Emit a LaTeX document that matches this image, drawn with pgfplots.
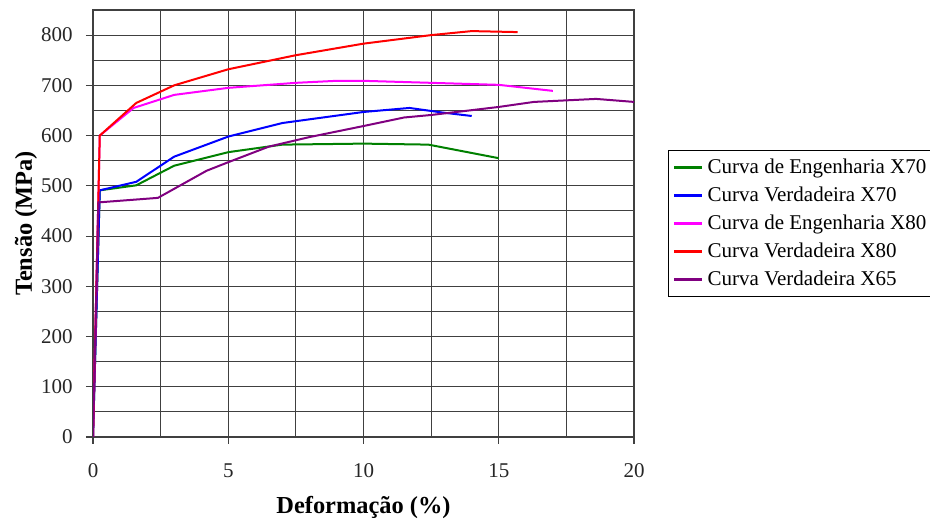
\documentclass[border=0pt]{standalone}
\usepackage{fontspec}
\setmainfont{Liberation Serif}
\usepackage{pgfplots}
\pgfplotsset{compat=1.18}
\definecolor{cgreen}{RGB}{0,128,0}
\definecolor{cblue}{RGB}{0,0,255}
\definecolor{cmag}{RGB}{255,0,255}
\definecolor{cred}{RGB}{255,0,0}
\definecolor{cpurp}{RGB}{128,0,128}
\begin{document}
\fontsize{10.5}{12.6}\selectfont
\begin{tikzpicture}
\path[use as bounding box] (-46.5pt,-43pt) rectangle (418.5pt,218.5pt);
\begin{axis}[
  scale only axis,
  width=270.5pt, height=213.5pt,
  at={(0,0)}, anchor=south west,
  xmin=0, xmax=20, ymin=0, ymax=850,
  xtick={0,5,10,15,20},
  ytick={0,100,...,800},
  minor xtick={2.5,7.5,12.5,17.5},
  minor ytick={50,150,...,850},
  grid=both,
  grid style={black!75, line width=0.55pt},
  minor grid style={black!75, line width=0.55pt},
  axis line style={black!75, line width=0.55pt},
  tick align=outside,
  major tick length=3.5pt,
  minor tick length=0pt,
  xtick pos=bottom, ytick pos=left,
  tick style={black!75, line width=0.55pt},
  /pgf/number format/assume math mode=true,
  ticklabel style={font=\fontsize{10.5}{12.6}\selectfont, text=black!85},
  xticklabel style={yshift=-6pt},
  yticklabel style={xshift=-3pt},
  xlabel={\textbf{Deformação (\%)}},
  ylabel={\textbf{Tensão (MPa)}},
  label style={font=\fontsize{12.2}{14}\selectfont},
  xlabel style={at={(axis description cs:0.5,-0.164)}, anchor=center},
  ylabel style={at={(axis description cs:-0.1240,0.5)}, anchor=center, rotate=0},
  legend style={at={(1.0628,0.672)}, anchor=north west, draw=black, line width=0.5pt,
    font=\fontsize{10.5}{12.6}\selectfont, row sep=1.2pt, inner xsep=2pt, inner ysep=2pt},
  legend cell align=left,
  legend image code/.code={\draw[#1, line width=1.6pt] (0pt,0pt) -- (14pt,0pt);},
  every axis plot/.append style={line width=1pt},
]
\addplot[cgreen] coordinates {(0,0) (0.25,491) (1.6,501) (3,540) (5,567) (7,582) (10,584) (12.4,582) (15,555)};
\addlegendentry{Curva de Engenharia X70}
\addplot[cblue] coordinates {(0,0) (0.25,491) (1.6,508) (3,558) (5,598) (7,625) (8.5,636) (10,647) (11.7,655) (12.9,646) (14,639)};
\addlegendentry{Curva Verdadeira X70}
\addplot[cmag] coordinates {(0,0) (0.25,600) (1.5,655) (3,681) (5,695) (7.5,705) (9,709) (10,709) (12.5,705) (15,701) (17,689)};
\addlegendentry{Curva de Engenharia X80}
\addplot[cred] coordinates {(0,0) (0.25,600) (1.6,665) (3,700) (5,732) (7.5,760) (10,783) (12.5,800) (14,808) (15.7,806)};
\addlegendentry{Curva Verdadeira X80}
\addplot[cpurp] coordinates {(0,0) (0.2,467) (2.4,476) (4.2,530) (5,547) (6.5,578) (8,597) (10,619) (11.5,636) (12.5,641) (15,657) (16.3,667) (18.6,673) (20,667)};
\addlegendentry{Curva Verdadeira X65}
\end{axis}
\end{tikzpicture}
\end{document}
